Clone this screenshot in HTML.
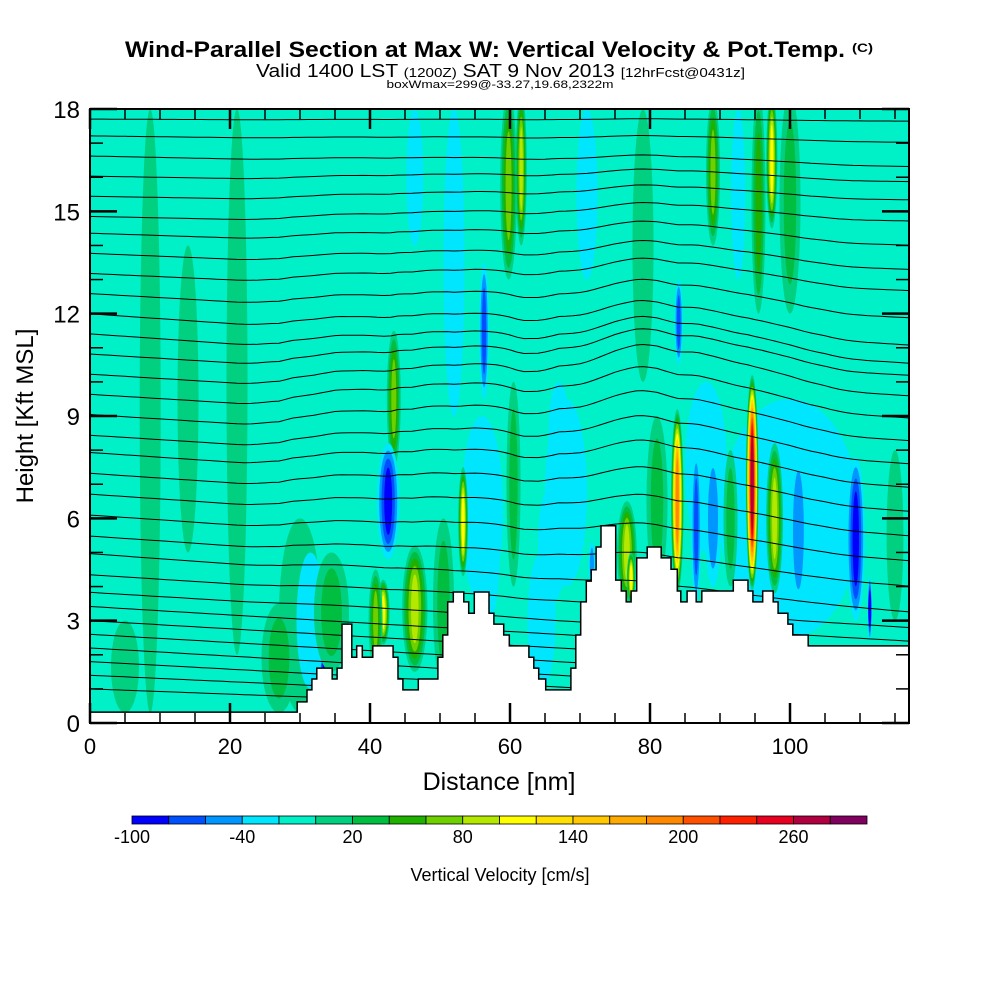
<!DOCTYPE html>
<html><head><meta charset="utf-8"><style>
html,body{margin:0;padding:0;background:#fff;}
svg{display:block;font-family:"Liberation Sans",sans-serif;}
</style></head><body>
<svg id="chart" width="1000" height="1000" viewBox="0 0 1000 1000">
<defs><clipPath id="plotclip"><rect x="90" y="109" width="819" height="614"/></clipPath></defs>
<text x="485" y="57" font-size="22" font-weight="bold" text-anchor="middle" textLength="720" lengthAdjust="spacingAndGlyphs">Wind-Parallel Section at Max W: Vertical Velocity &amp; Pot.Temp.</text>
<text x="852" y="52" font-size="12" font-weight="bold" textLength="21" lengthAdjust="spacingAndGlyphs">(C)</text>
<text x="256" y="77" font-size="18" textLength="489" lengthAdjust="spacingAndGlyphs">Valid 1400 LST <tspan font-size="13">(1200Z)</tspan> SAT 9 Nov 2013 <tspan font-size="13">[12hrFcst@0431z]</tspan></text>
<text x="500" y="88" font-size="11" text-anchor="middle" textLength="227" lengthAdjust="spacingAndGlyphs">boxWmax=299@-33.27,19.68,2322m</text>
<g id="plot" clip-path="url(#plotclip)">
<rect x="90" y="109" width="819" height="614" fill="#00f0c8"/>
<g id="blobs"></g>
<g id="contours"></g>
<path id="terrain" fill="#fff" stroke="#000" stroke-width="1.5"/>
</g>
<rect x="90" y="109" width="819" height="614" fill="none" stroke="#000" stroke-width="2"/>
<g id="axes"></g>
<text transform="translate(33,416) rotate(-90)" font-size="24" text-anchor="middle">Height [Kft MSL]</text>
<text x="499" y="790" font-size="25" text-anchor="middle">Distance [nm]</text>
<g id="colorbar"></g>
<text x="500" y="881" font-size="18" text-anchor="middle">Vertical Velocity [cm/s]</text>
</svg>
<script>
const NS='http://www.w3.org/2000/svg';
// color scale
const levelEdges=[-100,-80,-60,-40,-20,0,20,40,60,80,100,120,140,160,180,200,220,240,260,280,300];
const levelColors=['#0000ff','#0050ff','#0096ff','#00e6ff','#00f0c8','#00d080','#00bf40','#20b000','#6fd000','#b4e800','#ffff00','#ffe000','#ffc800','#ffaa00','#ff8800','#ff5000','#ff2000','#e80020','#b00040','#800060'];
const colorbarLabels=[-100,-40,20,80,140,200,260];
// terrain step function (distance nm, height kft)
const terrainX=[0,29.6,31.0,31.7,32.4,34.6,35.3,36.0,37.4,38.1,38.9,40.4,43.3,44.0,44.7,46.9,49.7,50.4,51.1,51.9,53.4,54.1,54.9,57.0,57.7,59.1,59.9,62.7,63.4,64.1,65.1,68.7,69.4,70.1,70.9,71.6,72.3,73.0,75.1,75.9,76.6,77.3,78.1,79.6,81.6,83.0,83.9,84.4,85.3,86.6,87.4,91.9,94.0,94.7,96.1,97.6,98.3,99.7,100.4,102.6];
const terrainH=[0.32,0.62,0.97,1.29,1.61,1.29,1.61,2.9,1.93,2.26,1.93,2.26,1.93,1.29,0.97,1.29,1.93,2.58,3.55,3.84,3.55,3.22,3.84,3.22,2.9,2.58,2.26,1.93,1.61,1.29,0.97,1.61,2.58,3.55,4.16,4.49,5.16,5.78,4.19,3.87,3.55,3.87,4.84,5.16,4.84,4.51,3.87,3.55,3.87,3.55,3.87,4.19,3.87,3.55,3.87,3.55,3.22,2.9,2.58,2.26];
// velocity features: center distance, bottom kft, top kft, half width nm, peak cm/s
const blobX=[100,56,68,88,30,8.6,21,5,27,43.4,59.8,61.6,56.3,46.4,52,84.1,89,95.5,97.4,100,92.6,79,71,42.6,33.4,31.5,34.5,41.9,40.8,46.4,50.5,53.3,57,64.5,66,71.7,76.7,77.3,83.9,86.6,89,94.6,97.8,101.2,104.5,109.4,111.4,115,81,91.5,14,60.5,67];
const blobBottom=[2.5,3.5,4,5,0.3,0.3,2,0.3,0.3,7.5,13,14,9.5,14,9,10.5,14,12,14.5,12,13,10,13,4.8,1.1,1,1.5,2.3,1.5,1.5,1,4.3,3,1,3.5,4,3.5,3.5,3.8,3.5,4,3.9,3.8,3.3,3,3,2.4,3,4,4,5,4,7];
const blobTop=[9.5,9,9.5,10,6,18,18,3,3.5,11.5,18.5,18.5,13.5,18,18,13,18.3,18.5,18.5,18.5,18,18,18,8.2,3.2,5,5,4.2,4.5,5.2,6,7.5,7,5,7,5.3,6.5,5,9.2,8,8,10.2,8.2,8,8,7.8,4.3,8,9,8,14,10,10];
const blobW=[10,3,3,3,3,1.5,1.5,2,2.5,1,1.2,0.8,0.7,1.2,1.5,0.6,1,1,0.8,1.5,1,1.5,1.5,1.6,0.8,2,2.5,0.9,1,1.8,1.5,0.7,1.5,2,2,0.5,1.4,0.6,0.9,0.7,1.2,0.9,1.2,1.3,1.5,1.3,0.3,1.2,1.5,1,1.5,1,1.5];
const blobVal=[-30,-30,-25,-25,15,15,12,15,25,80,80,100,-80,-30,-30,-80,80,60,110,30,-30,20,-25,-100,-100,-40,40,120,70,90,40,120,-30,-30,-30,-60,90,120,190,-70,-60,270,100,-60,-30,-90,-90,20,30,30,15,30,-30];
// potential temperature contours: height at left and right edges (kft)
const thetaLeft=[17.7,17.2,16.6,16.0,15.4,14.8,14.3,13.7,13.1,12.5,11.9,11.3,10.7,10.1,9.5,8.9,8.3,7.8,7.2,6.6,6.0,5.4,4.9,4.3,3.8,3.4,3.0,2.6,2.2,1.8,1.4,1.0];
const thetaRight=[17.6,16.9,16.1,15.6,15.0,14.3,13.5,12.7,12.0,11.1,10.2,9.6,9.2,8.6,8.0,7.4,6.8,6.2,5.6,5.0,4.4,3.8,3.2,2.8,2.4,2.0,1.6,1.2,0.8,0.5,0.3,0.1];

const X=nm=>90+nm*7, Y=k=>723-k*34.11;
function colorFor(v){for(let i=0;i<levelColors.length;i++){if(v<levelEdges[i+1])return levelColors[i];}return levelColors[levelColors.length-1];}
function terrainAt(nm){let h=terrainH[0];for(let i=0;i<terrainX.length;i++){if(nm>=terrainX[i])h=terrainH[i];}return h;}
function terrainSmooth(nm){let s=0,n=0;for(let d=-8;d<=8;d+=1){s+=terrainAt(Math.min(117,Math.max(0,nm+d)));n++;}return s/n;}

// blobs
const gB=document.getElementById('blobs');
blobX.forEach((bx,i)=>{
  const v=blobVal[i], cx=X(bx), cy=(Y(blobBottom[i])+Y(blobTop[i]))/2;
  const ry=(Y(blobBottom[i])-Y(blobTop[i]))/2, rx=blobW[i]*7;
  const g=document.createElementNS(NS,'g');
  
  
  const ts=[];
  if(v>0){for(let t=0;t<v;t+=20)ts.push(t);}else{for(let t=-20;t>v;t-=20)ts.push(t);}
  ts.forEach((t,j)=>{
    const f=Math.pow(1-j/ts.length,0.75);
    const e=document.createElementNS(NS,'ellipse');
    
    
    e.setAttribute('cx',cx);e.setAttribute('cy',cy);
    e.setAttribute('rx',Math.max(1.5,rx*f));e.setAttribute('ry',Math.max(3,ry*(0.35+0.65*f)));
    e.setAttribute('fill',colorFor(v>0?t+1:t-1));
    g.appendChild(e);
  });
  gB.appendChild(g);
});

// contours
const gC=document.getElementById('contours');
thetaLeft.forEach((hl,i)=>{
  const hr=thetaRight[i];let d='';
  for(let nm=0;nm<=117;nm+=1){
    let h=hl+(hr-hl)*nm/117;
    const w=Math.max(0,Math.min(1,(h-3)/6))*Math.max(0,1-(h-9)/9);
    h+=0.45*w*terrainSmooth(nm);
    d+=(nm?'L':'M')+X(nm).toFixed(1)+' '+Y(h).toFixed(1);
  }
  const p=document.createElementNS(NS,'path');
  
  
  p.setAttribute('d',d);p.setAttribute('fill','none');p.setAttribute('stroke','#000');p.setAttribute('stroke-width','1');
  gC.appendChild(p);
});

// terrain
let td='M'+X(0)+' '+Y(0);
terrainX.forEach((tx,i)=>{td+='L'+X(tx).toFixed(1)+' '+Y(i?terrainH[i-1]:terrainH[0]).toFixed(1)+'L'+X(tx).toFixed(1)+' '+Y(terrainH[i]).toFixed(1);});
td+='L'+X(117)+' '+Y(terrainH[terrainH.length-1]).toFixed(1)+'L'+X(117)+' '+Y(0)+'Z';
document.getElementById('terrain').setAttribute('d',td);

// axes
const gA=document.getElementById('axes');
function line(x1,y1,x2,y2,w,name){const l=document.createElementNS(NS,'line');


l.setAttribute('x1',x1);l.setAttribute('y1',y1);l.setAttribute('x2',x2);l.setAttribute('y2',y2);l.setAttribute('stroke','#000');l.setAttribute('stroke-width',w);gA.appendChild(l);}
function txt(x,y,s,size,anchor,name,parent){const t=document.createElementNS(NS,'text');


t.setAttribute('x',x);t.setAttribute('y',y);t.setAttribute('font-size',size);t.setAttribute('text-anchor',anchor);t.textContent=s;(parent||gA).appendChild(t);}
for(let k=0;k<=18;k++){const y=Y(k),maj=k%3===0,L=maj?27:13,w=maj?2.5:1.5;
  line(90,y,90+L,y,w,'y-tick');line(909,y,909-L,y,w,'y-tick-right');
  if(maj)txt(80,y+9,String(k),24,'end','y-tick-label');}
for(let nm=0;nm<=115;nm+=5){const x=X(nm),maj=nm%20===0,L=maj?20:10,w=maj?2.5:1.5;
  line(x,723,x,723-L,w,'x-tick');line(x,109,x,109+L,w,'x-tick-top');
  if(maj)txt(x,754,String(nm),22,'middle','x-tick-label');}

// colorbar
const gCb=document.getElementById('colorbar');
const cbX=v=>132+(v+100)*735/400;
levelColors.forEach((c,i)=>{const r=document.createElementNS(NS,'rect');


r.setAttribute('x',cbX(levelEdges[i]));r.setAttribute('y',816);r.setAttribute('width',cbX(levelEdges[i+1])-cbX(levelEdges[i]));r.setAttribute('height',8);
r.setAttribute('fill',c);r.setAttribute('stroke','#000');r.setAttribute('stroke-width','0.8');gCb.appendChild(r);});
colorbarLabels.forEach(v=>txt(cbX(v),843,String(v),18,'middle','colorbar-label',gCb));
</script>
</body></html>
